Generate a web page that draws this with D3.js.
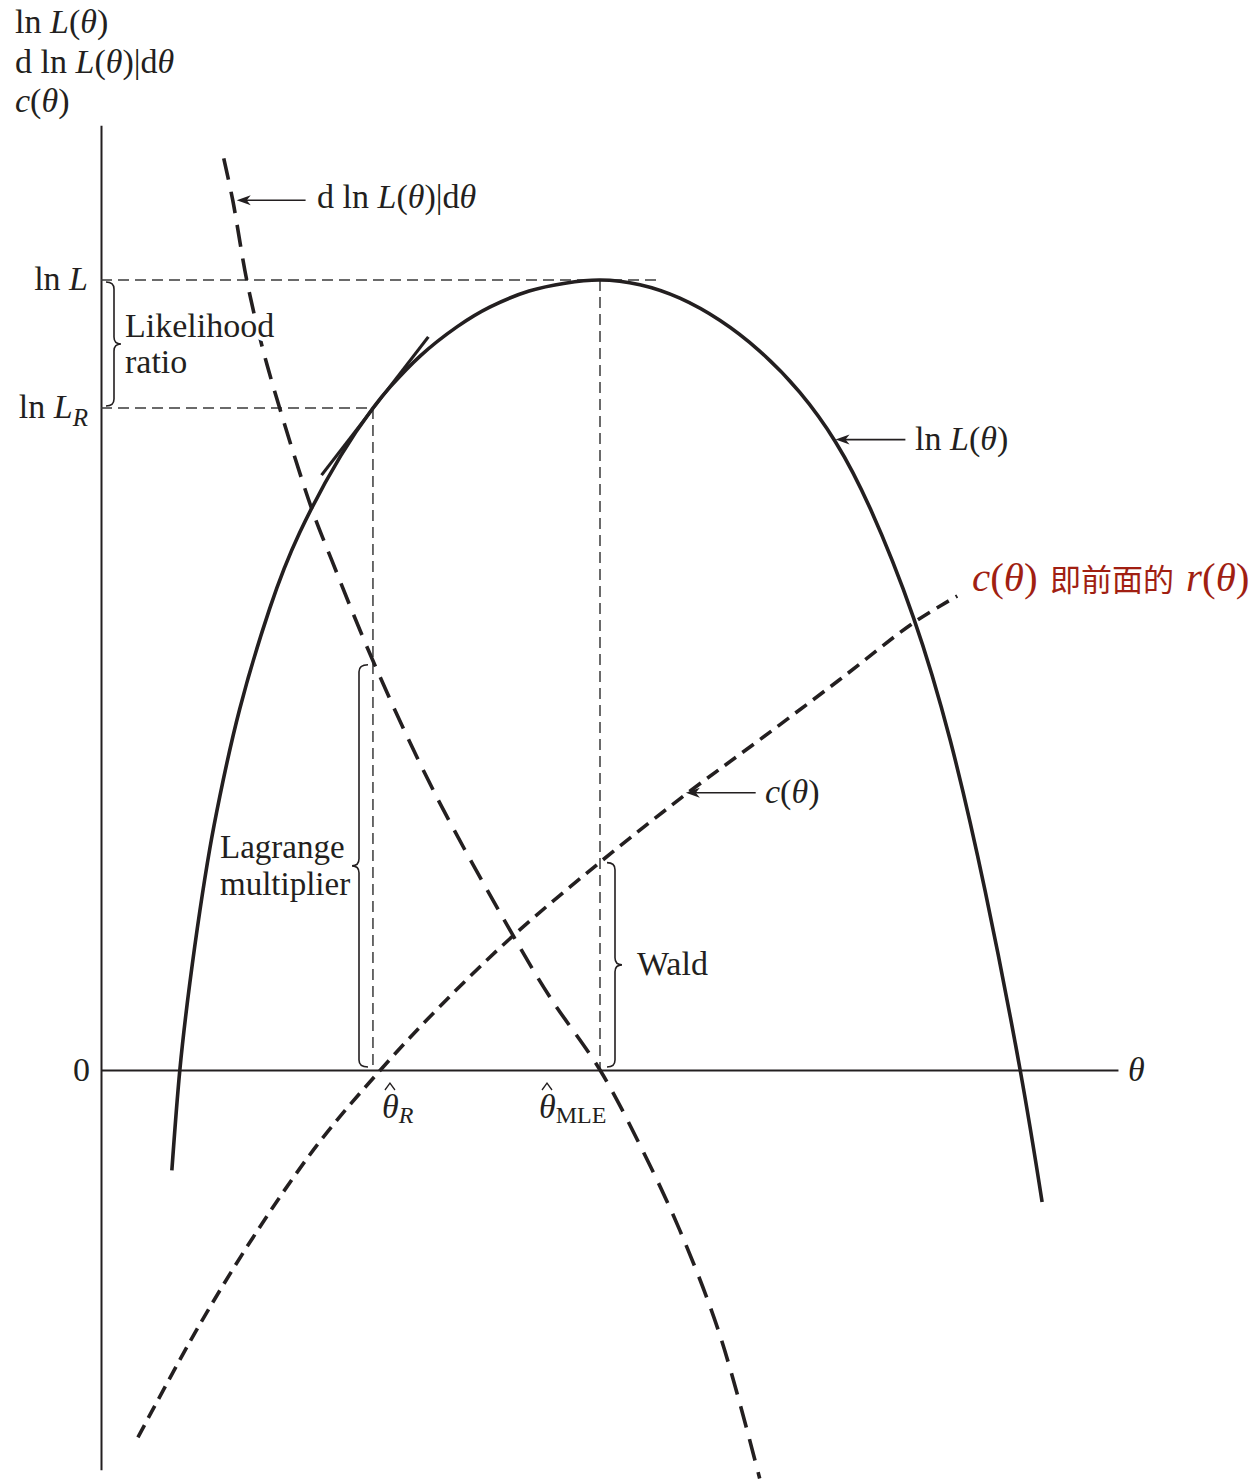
<!DOCTYPE html>
<html>
<head>
<meta charset="utf-8">
<script src="https://cdn.jsdelivr.net/npm/d3@7"></script>
<style>
  body { margin: 0; background: #fff; }
  text { font-family: "Liberation Serif", "Times New Roman", serif; fill: #231f20; }
</style>
</head>
<body>
<svg id="chart" width="1257" height="1482"></svg>
<script>
// ---- data (theta, value) ----
const logLik = [
  [0.71, -1.27], [0.79, 0], [0.89, 1.10], [0.99, 2.01], [1.09, 2.80], [1.19, 3.46],
  [1.39, 4.57], [1.69, 5.84], [1.99, 6.80], [2.40, 7.77], [2.725, 8.38], [2.90, 8.65],
  [3.20, 9.04], [3.57, 9.41], [3.90, 9.66], [4.29, 9.86], [4.65, 9.96], [5.00, 10.0],
  [5.40, 9.94], [5.80, 9.77], [6.20, 9.49], [6.60, 9.10], [7.00, 8.58], [7.36, 7.95],
  [7.71, 7.10], [8.14, 5.73], [8.51, 4.17], [8.86, 2.26], [9.21, 0], [9.43, -1.67]
];
const score = [
  [1.23, 11.54], [1.32, 11.01], [1.46, 10.0], [1.61, 9.18], [1.79, 8.38], [2.11, 7.11],
  [2.31, 6.46], [2.725, 5.18], [3.33, 3.54], [4.13, 1.70], [4.50, 0.92], [5.00, 0],
  [5.40, -0.95], [5.80, -2.03], [6.20, -3.35], [6.60, -5.17]
];
const constraint = [
  [0.37, -4.65], [0.99, -3.22], [1.59, -1.99], [2.19, -0.91], [2.80, 0], [3.40, 0.81],
  [4.13, 1.70], [5.00, 2.63], [5.85, 3.48], [6.60, 4.18], [7.40, 4.94], [8.14, 5.66],
  [8.58, 6.00]
];
const tangent = [[2.21, 7.53], [3.28, 9.28]];
const thetaHat = [2.725, 5.0];          // restricted estimate, MLE
const logLikLevels = [10.0, 8.38];      // ln L at MLE, ln L at restricted estimate
const scoreAtRestricted = 5.13;
const constraintAtMLE = 2.65;
const axisExtent = { theta: [0, 10.19], value: [-5.06, 11.96] };

// ---- scales ----
const X = d3.scaleLinear().domain([0, 5]).range([101, 600]);
const Y = d3.scaleLinear().domain([0, 10]).range([1070, 280]);

const svg = d3.select("#chart");
const ink = "#231f20";
const FS = 34;

// ---- axes ----
const xAxisScale = d3.scaleLinear().domain(axisExtent.theta).range(axisExtent.theta.map(X));
const yAxisScale = d3.scaleLinear().domain(axisExtent.value).range(axisExtent.value.map(Y));
const gx = svg.append("g").attr("transform", `translate(0,${Y(0)})`)
  .call(d3.axisBottom(xAxisScale).tickValues([]).tickSizeOuter(0));
const gy = svg.append("g").attr("transform", `translate(${X(0)},0)`)
  .call(d3.axisLeft(yAxisScale).tickValues([]).tickSizeOuter(0));
[gx, gy].forEach(g => g.select(".domain").attr("stroke", ink).attr("stroke-width", 2));

// ---- guide lines ----
const guides = svg.append("g").attr("stroke", "#3a3a3a").attr("stroke-width", 1.5)
  .attr("stroke-dasharray", "11,6").attr("fill", "none");
guides.append("line").attr("x1", X(0)).attr("x2", X(5.6))
  .attr("y1", Y(logLikLevels[0])).attr("y2", Y(logLikLevels[0]));
guides.append("line").attr("x1", X(0)).attr("x2", X(thetaHat[0]))
  .attr("y1", Y(logLikLevels[1])).attr("y2", Y(logLikLevels[1]));
guides.append("line").attr("x1", X(thetaHat[0])).attr("x2", X(thetaHat[0]))
  .attr("y1", Y(logLikLevels[1])).attr("y2", Y(0));
guides.append("line").attr("x1", X(thetaHat[1])).attr("x2", X(thetaHat[1]))
  .attr("y1", Y(logLikLevels[0])).attr("y2", Y(0));

// ---- curves ----
const line = d3.line().x(d => X(d[0])).y(d => Y(d[1])).curve(d3.curveCatmullRom.alpha(0.5));
const smooth = d3.line().x(d => X(d[0])).y(d => Y(d[1])).curve(d3.curveNatural);
svg.append("path").datum(logLik).attr("d", smooth)
  .attr("fill", "none").attr("stroke", ink).attr("stroke-width", 3.6);
svg.append("path").datum(score).attr("d", line)
  .attr("fill", "none").attr("stroke", ink).attr("stroke-width", 3.6)
  .attr("stroke-dasharray", "22,12");
svg.append("path").datum(constraint).attr("d", line)
  .attr("fill", "none").attr("stroke", ink).attr("stroke-width", 3.6)
  .attr("stroke-dasharray", "14,8");
svg.append("path").datum(tangent).attr("d", d3.line().x(d => X(d[0])).y(d => Y(d[1])))
  .attr("fill", "none").attr("stroke", ink).attr("stroke-width", 3.2);

// ---- braces ----
function brace(xe, xs, xt, y1, y2, r) {
  const ym = (y1 + y2) / 2;
  return `M${xe},${y1} Q${xs},${y1} ${xs},${y1 + r} L${xs},${ym - r} Q${xs},${ym} ${xt},${ym}` +
         ` Q${xs},${ym} ${xs},${ym + r} L${xs},${y2 - r} Q${xs},${y2} ${xe},${y2}`;
}
const braces = svg.append("g").attr("fill", "none").attr("stroke", ink).attr("stroke-width", 1.6);
braces.append("path").attr("d", brace(106, 114, 121, Y(logLikLevels[0]) + 2, Y(logLikLevels[1]) - 2, 7));
braces.append("path").attr("d", brace(368, 359, 352, Y(scoreAtRestricted), Y(0) - 3, 7));
braces.append("path").attr("d", brace(607, 615, 622, Y(constraintAtMLE) + 2, Y(0) - 3, 7));

// ---- arrows ----
function arrow(x1, x2, yv) {
  const y = Y(yv), xa = X(x1), xb = X(x2);
  svg.append("line").attr("x1", xa).attr("x2", xb + 6).attr("y1", y).attr("y2", y)
    .attr("stroke", ink).attr("stroke-width", 1.6);
  svg.append("path").attr("d", `M${xb},${y} L${xb + 14},${y - 5} L${xb + 10},${y} L${xb + 14},${y + 5} Z`)
    .attr("fill", ink);
}
arrow(2.05, 1.36, 11.01);
arrow(8.06, 7.36, 7.98);
arrow(6.56, 5.86, 3.51);

// ---- rich text helper ----
function rich(x, y, parts, opts = {}) {
  const t = svg.append("text").attr("x", x).attr("y", y)
    .attr("font-size", opts.size || FS)
    .attr("text-anchor", opts.anchor || "start");
  if (opts.fill) t.style("fill", opts.fill);
  parts.forEach(p => {
    const s = t.append("tspan").text(p.t);
    if (p.i) s.attr("font-style", "italic");
    if (p.size) s.attr("font-size", p.size);
    if (p.dy) s.attr("dy", p.dy);
    if (p.x !== undefined) s.attr("x", p.x);
    if (p.family) s.style("font-family", p.family);
  });
  return t;
}

// upper-left axis title
rich(15, 33, [{ t: "ln " }, { t: "L", i: 1 }, { t: "(" }, { t: "θ", i: 1 }, { t: ")" }]);
rich(15, 73, [{ t: "d ln " }, { t: "L", i: 1 }, { t: "(" }, { t: "θ", i: 1 }, { t: ")|d" }, { t: "θ", i: 1 }]);
rich(15, 112, [{ t: "c", i: 1 }, { t: "(" }, { t: "θ", i: 1 }, { t: ")" }]);

// value-axis labels
rich(88, Y(logLikLevels[0]) + 10, [{ t: "ln " }, { t: "L", i: 1 }], { anchor: "end" });
rich(88, Y(logLikLevels[1]) + 10, [{ t: "ln " }, { t: "L", i: 1 }, { t: "R", i: 1, size: 25, dy: 8 }], { anchor: "end" });
rich(90, Y(0) + 11, [{ t: "0" }], { anchor: "end" });
rich(1128, Y(0) + 11, [{ t: "θ", i: 1 }]);

// estimates on the theta axis
function hatLabel(xc, sub, subItalic) {
  rich(xc, 1118, [{ t: "θ", i: 1 }, { t: sub, i: subItalic, size: 24, dy: 5 }]);
  svg.append("path").attr("d", `M${xc + 3},${1090} L${xc + 8},${1083} L${xc + 13},${1090}`)
    .attr("fill", "none").attr("stroke", ink).attr("stroke-width", 1.3);
}
hatLabel(X(thetaHat[0]) + 9, "R", 1);
hatLabel(X(thetaHat[1]) - 61, "MLE", 0);

// curve labels
rich(317, 208, [{ t: "d ln " }, { t: "L", i: 1 }, { t: "(" }, { t: "θ", i: 1 }, { t: ")|d" }, { t: "θ", i: 1 }]);
rich(915, 450, [{ t: "ln " }, { t: "L", i: 1 }, { t: "(" }, { t: "θ", i: 1 }, { t: ")" }]);
rich(765, 803, [{ t: "c", i: 1 }, { t: "(" }, { t: "θ", i: 1 }, { t: ")" }]);

// test labels
rich(125, 337, [{ t: "Likelihood" }])
  .attr("stroke", "#fff").attr("stroke-width", 8).attr("paint-order", "stroke");
rich(125, 373, [{ t: "ratio" }]);
rich(220, 858, [{ t: "Lagrange" }], { size: 33 });
rich(220, 895, [{ t: "multiplier" }], { size: 33 });
rich(637, 975, [{ t: "Wald" }]);

// note on c(θ)
const red = "#a11f12";
rich(972, 591, [
  { t: "c", i: 1 }, { t: "(" }, { t: "θ", i: 1 }, { t: ")" },
  { t: "即前面的", family: "'Noto Sans CJK SC', sans-serif", size: 31, x: 1050 },
  { t: "r", i: 1, x: 1186 }, { t: "(" }, { t: "θ", i: 1 }, { t: ")" }
], { fill: red, size: 41 });
</script>
</body>
</html>
